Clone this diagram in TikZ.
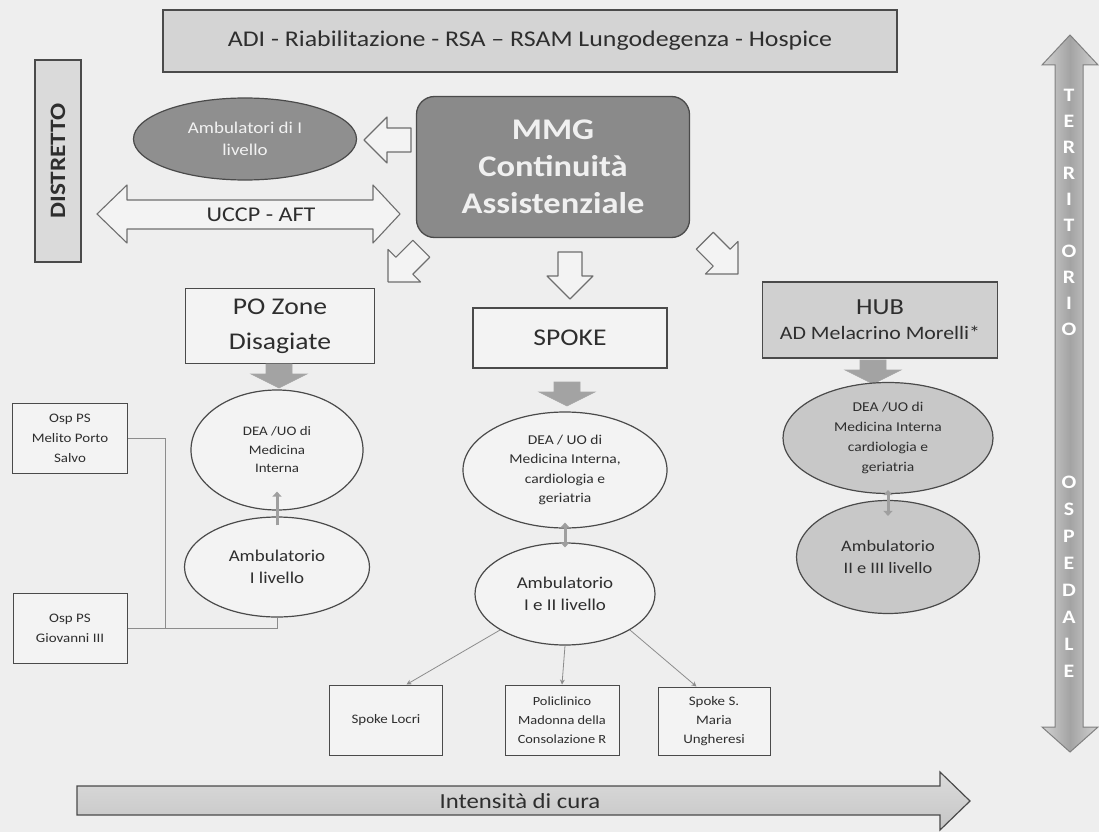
\documentclass[tikz,border=0pt]{standalone}
\usepackage{fontspec}
\setmainfont[FakeStretch=1.15]{Carlito}
\usetikzlibrary{arrows.meta,shapes.geometric}
\definecolor{bg}{HTML}{EEEEEE}
\definecolor{edge}{HTML}{4A4A4A}
\definecolor{txt}{HTML}{2E2E2E}
\definecolor{banfill}{HTML}{D4D4D4}
\definecolor{distfill}{HTML}{DADADA}
\definecolor{mmgfill}{HTML}{8A8A8A}
\definecolor{ambfill}{HTML}{8F8F8F}
\definecolor{hubfill}{HTML}{D0D0D0}
\definecolor{hubell}{HTML}{C8C8C8}
\definecolor{plain}{HTML}{F3F3F3}
\definecolor{arrfill}{HTML}{A3A3A3}
\definecolor{lineg}{HTML}{8C8C8C}
\newcommand\myfs[2]{\fontsize{#1}{#2}\selectfont}
\begin{document}
\begin{tikzpicture}[x=1pt,y=-1pt,
  box/.style={draw=edge, line width=1.3pt, inner sep=2pt, align=center, text=txt},
  ell/.style={ellipse, draw=edge, line width=1.2pt, inner sep=0pt, align=center, text=txt},
  hollow/.style={draw=edge!80, line width=1.1pt, fill=plain, line join=round},
  greyarr/.style={draw=gray!70, line width=0.6pt, fill=arrfill},
  thinarr/.style={draw=lineg, line width=0.8pt, -{Stealth[length=5pt,width=5pt]}},
  linkline/.style={draw=lineg, line width=1pt},
  smallarr/.style={draw=gray!75, line width=3pt, {Triangle[length=5pt,width=9pt]}-{Triangle[length=5pt,width=9pt]}},
  uparr/.style={draw=gray!75, line width=3pt, -{Triangle[length=5pt,width=9pt]}},
  letter/.style={text=white, font=\bfseries\myfs{19}{19}, inner sep=0pt},
  harrow/.pic={\path[hollow] (-23,-12) -- (1,-12) -- (1,-23) -- (24,0) -- (1,23) -- (1,12) -- (-23,12) -- cycle;},
  garrow/.pic={\path[greyarr] (-13,-12) -- (-13,-2) -- (-28,-2) -- (0,12) -- (28,-2) -- (13,-2) -- (13,-12) -- cycle;}
]
% background
\fill[bg] (0,0) rectangle (1099,832);
\useasboundingbox (0,0) rectangle (1099,832);

% top banner
\node[box, fill=banfill, minimum width=734pt, minimum height=62pt, font=\myfs{22.5}{26}] (banner) at (530,41)
  {ADI - Riabilitazione - RSA – RSAM Lungodegenza - Hospice};

% distretto
\node[box, fill=distfill, rotate=90, minimum width=202pt, minimum height=46pt, font=\bfseries\myfs{22}{24}] (distr) at (58,161) {DISTRETTO};

% ambulatori di I livello
\node[ell, fill=ambfill, text=gray!10, minimum width=223pt, minimum height=82pt, font=\myfs{16.5}{22}] (ambI) at (245,139) {Ambulatori di I\\livello};

% MMG
\node[box, fill=mmgfill, rounded corners=18pt, minimum width=273pt, minimum height=141pt, text=gray!12, font=\bfseries\myfs{30}{37}] (mmg) at (553,167) {MMG\\Continuità\\Assistenziale};

% hollow arrows from MMG
\pic[rotate=180] at (388,140) {harrow};
\pic[rotate=225] at (405,265) {harrow};
\pic[rotate=270] at (570,275) {harrow};
\pic[rotate=315] at (721,257) {harrow};

% UCCP - AFT double arrow
\path[hollow] (97,214) -- (127,185) -- (127,200) -- (373,200) -- (373,185) -- (400,214) -- (373,243) -- (373,229) -- (127,229) -- (127,243) -- cycle;
\node[text=txt, font=\myfs{21}{24}, inner sep=0pt] (uccp) at (261,215) {UCCP - AFT};

% PO Zone Disagiate column
\node[box, fill=plain, minimum width=189pt, minimum height=75pt, font=\myfs{24}{35}] (po) at (280,326) {PO Zone\\Disagiate};
\pic at (279,376) {garrow};
\node[ell, fill=plain, minimum width=172pt, minimum height=120pt, font=\myfs{13}{18.5}] (deaPO) at (277,450) {DEA /UO di\\Medicina\\Interna};
\node[ell, fill=plain, minimum width=185pt, minimum height=100pt, font=\myfs{16.5}{22}] (ambPO) at (277,567) {Ambulatorio\\I livello};
\coordinate (poTip) at ([yshift=19pt]deaPO.south);
\draw[uparr] ([yshift=-9pt]ambPO.north) -- (poTip);

% Osp PS boxes
\node[box, fill=plain, line width=1pt, minimum width=115pt, minimum height=70pt, font=\myfs{13}{20}] (melito) at (70,438) {Osp PS\\Melito Porto\\Salvo};
\node[box, fill=plain, line width=1pt, minimum width=114pt, minimum height=70pt, font=\myfs{13}{20}] (giov) at (70,628) {Osp PS\\Giovanni III};
\coordinate (join) at (165,628);
\draw[linkline] (giov.east) -| (ambPO.south);
\draw[linkline] (melito.east) -| (join);

% SPOKE column
\node[box, fill=plain, minimum width=194pt, minimum height=60pt, font=\myfs{24}{28}] (spoke) at (570,338) {SPOKE};
\pic at (567,394) {garrow};
\node[ell, fill=plain, minimum width=204pt, minimum height=116pt, font=\myfs{13.5}{19.5}] (deaS) at (565,470) {DEA / UO di\\Medicina Interna,\\cardiologia e\\geriatria};
\node[ell, fill=plain, minimum width=180pt, minimum height=102pt, font=\myfs{16.5}{22}] (ambS) at (565,594) {Ambulatorio\\I e II livello};
\draw[smallarr] ([yshift=6pt]deaS.south) -- ([yshift=-5pt]ambS.north);

% bottom boxes
\node[box, fill=plain, line width=1pt, minimum width=113pt, minimum height=70pt, font=\myfs{13}{19}] (locri) at (386,720) {Spoke Locri};
\node[box, fill=plain, line width=1pt, minimum width=114pt, minimum height=70pt, font=\myfs{12.5}{19}] (poli) at (562,720) {Policlinico\\Madonna della\\Consolazione R};
\node[box, fill=plain, line width=1pt, minimum width=112pt, minimum height=68pt, font=\myfs{13}{19}] (ungh) at (714,721) {Spoke S.\\Maria\\Ungheresi};
\draw[thinarr] (ambS.209) -- (locri.60);
\draw[thinarr] (ambS.south) -- (poli.north);
\draw[thinarr] (ambS.331) -- (ungh.117);

% HUB column
\node[box, fill=hubfill, minimum width=235pt, minimum height=76pt, font=\myfs{19}{25}] (hub) at (880,320) {{\myfs{23}{26}HUB}\\AD Melacrino Morelli*};
\pic at (873,372) {garrow};
\node[ell, fill=hubell, minimum width=210pt, minimum height=111pt, font=\myfs{13.5}{20}] (deaH) at (888,438) {DEA /UO di\\Medicina Interna\\cardiologia e\\geriatria};
\node[ell, fill=hubell, minimum width=183pt, minimum height=113pt, font=\myfs{16}{22}] (ambH) at (888,557) {Ambulatorio\\II e III livello};
\draw[smallarr] ([yshift=4pt]deaH.south) -- ([yshift=-16pt]ambH.north);

% vertical territorio / ospedale arrow
\path[draw=edge!70, line width=1pt, left color=gray!35, right color=gray!35, middle color=gray!72]
  (1070,35) -- (1098,65) -- (1083,65) -- (1083,727) -- (1098,727) -- (1070,752) -- (1042,727) -- (1055,727) -- (1055,65) -- (1042,65) -- cycle;
\foreach \l [count=\i] in {T,E,R,R,I,T,O,R,I,O}
  \node[letter] (terr\i) at ({1069},{95+26*(\i-1)}) {\l};
\foreach \l [count=\i] in {O,S,P,E,D,A,L,E}
  \node[letter] (osp\i) at ({1069},{482+27*(\i-1)}) {\l};

% intensita di cura arrow
\path[draw=edge, line width=1.2pt, top color=gray!28, bottom color=gray!45]
  (77,786) -- (940,786) -- (940,772) -- (970,801) -- (940,830) -- (940,815) -- (77,815) -- cycle;
\node[text=txt, font=\myfs{21.5}{24}, inner sep=0pt] (intens) at (520,801) {Intensità di cura};
\end{tikzpicture}
\end{document}
